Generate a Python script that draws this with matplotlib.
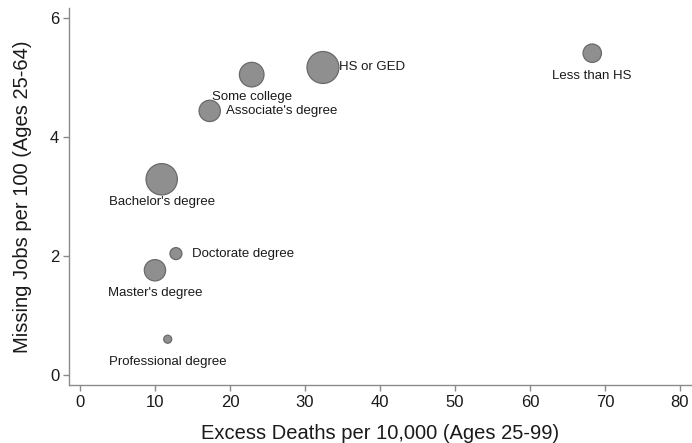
import matplotlib.pyplot as plt
import numpy as np

plt.rcParams['font.family'] = ['Liberation Sans', 'DejaVu Sans']

# data
groups = ['Less than HS', 'HS or GED', 'Some college', "Associate's degree",
          "Bachelor's degree", 'Doctorate degree', "Master's degree",
          'Professional degree']
excess_deaths = [68.3, 32.4, 22.9, 17.3, 10.9, 12.8, 10.0, 11.7]
missing_jobs = [5.41, 5.17, 5.05, 4.44, 3.29, 2.04, 1.76, 0.60]
pop_weight = [9.0, 27.0, 16.0, 12.0, 26.0, 3.8, 12.0, 1.7]
label_pos = ['below', 'right', 'below', 'right', 'below', 'right', 'below', 'below']

xticks = [0, 10, 20, 30, 40, 50, 60, 70, 80]
yticks = [0, 2, 4, 6]

fig = plt.figure(figsize=(6.92, 4.43), dpi=100)
ax = fig.add_axes([0.0997, 0.1309, 0.9003, 0.851])

sizes = np.array(pop_weight) * 19.6
ax.scatter(excess_deaths, missing_jobs, s=sizes, c='#8f8f8f',
           edgecolors='#6a6a6a', linewidths=0.9, zorder=3)

for name, x, y, pos in zip(groups, excess_deaths, missing_jobs, label_pos):
    if pos == 'right':
        ax.annotate(name, (x, y), xytext=(11.9, 0), textcoords='offset points',
                    ha='left', va='center', fontsize=9.5, color='#1a1a1a')
    else:
        ax.annotate(name, (x, y), xytext=(0, -16.3), textcoords='offset points',
                    ha='center', va='center', fontsize=9.5, color='#1a1a1a')

ax.set_xlim(-1.46, 81.6)
ax.set_ylim(-0.17, 6.17)
ax.set_xticks(xticks)
ax.set_yticks(yticks)

for side in ['top', 'right']:
    ax.spines[side].set_visible(False)
for side in ['left', 'bottom']:
    ax.spines[side].set_color('#8a8a8a')
    ax.spines[side].set_linewidth(1.0)

ax.tick_params(axis='both', colors='#8a8a8a', length=4, width=1.0,
               labelsize=12, labelcolor='#1a1a1a', pad=3)

ax.set_xlabel('Excess Deaths per 10,000 (Ages 25-99)', fontsize=14.5,
              color='#1a1a1a', labelpad=10)
ax.set_ylabel('Missing Jobs per 100 (Ages 25-64)', fontsize=14.5,
              color='#1a1a1a', labelpad=13)

fig.savefig('out.png', dpi=100)
